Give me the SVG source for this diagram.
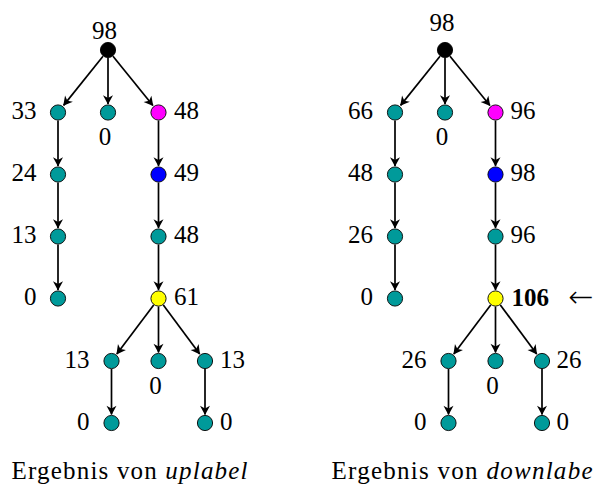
<svg xmlns="http://www.w3.org/2000/svg" width="594" height="486" viewBox="0 0 594 486">
  <style>
    text { font-family: "Liberation Serif", "DejaVu Serif", serif; font-size: 25px; fill: #000; }
    .l { text-anchor: end; }
    .c { text-anchor: middle; }
    .cap { font-size: 25px; }
    .em { font-style: italic; }
    .bold { font-weight: bold; }
    .arr { font-family: "DejaVu Sans", sans-serif; font-size: 30px; font-weight: 300; }
    circle { stroke: #000; stroke-width: 0.9; }
    .teal { fill: #009a9a; }
    .mag { fill: #ff00ff; }
    .blue { fill: #0000ff; }
    .yel { fill: #ffff00; }
    .blk { fill: #000; }
    .edges path { stroke: #000; stroke-width: 1.7; fill: none; marker-end: url(#tip); }
  </style>
  <defs>
    <marker id="tip" markerUnits="userSpaceOnUse" viewBox="-11 -6 13 12" refX="0" refY="0" markerWidth="13" markerHeight="12" orient="auto">
      <path d="M0.6,0 L-8.6,-5 L-6,0 L-8.6,5 Z" fill="#000"/>
    </marker>
  </defs>

  <!-- left tree: uplabel -->
  <g id="tree-up">
    <g class="edges">
      <path d="M103,56.2 L63.6,105.4"/>
      <path d="M108,58 L108,103.9"/>
      <path d="M113,56.2 L152.9,105.5"/>
      <path d="M58,120.5 L58,165.9"/>
      <path d="M58,182.5 L58,227.9"/>
      <path d="M58,244.5 L58,289.9"/>
      <path d="M158.5,120.5 L158.5,165.9"/>
      <path d="M158.5,182.5 L158.5,227.9"/>
      <path d="M158.5,244.5 L158.5,289.9"/>
      <path d="M153.7,304.9 L116.8,353.9"/>
      <path d="M158.5,306.5 L158.5,352.4"/>
      <path d="M163.3,304.9 L199.7,353.9"/>
      <path d="M111.5,369 L111.5,414.4"/>
      <path d="M205,369 L205,414.4"/>
    </g>
    <g id="u-root"><circle class="blk" cx="108" cy="50" r="7.6"/><text class="c" x="104.5" y="39">98</text></g>
    <g id="u-a"><circle class="teal" cx="58" cy="112.5" r="7.6"/><text class="l" x="36.5" y="119">33</text></g>
    <g id="u-b"><circle class="teal" cx="108" cy="112.5" r="7.6"/><text class="c" x="105" y="145">0</text></g>
    <g id="u-c"><circle class="mag" cx="158.5" cy="112.5" r="7.6"/><text x="174" y="119">48</text></g>
    <g id="u-a1"><circle class="teal" cx="58" cy="174.5" r="7.6"/><text class="l" x="36.5" y="181">24</text></g>
    <g id="u-a2"><circle class="teal" cx="58" cy="236.5" r="7.6"/><text class="l" x="36.5" y="243">13</text></g>
    <g id="u-a3"><circle class="teal" cx="58" cy="298.5" r="7.6"/><text class="l" x="36.5" y="305">0</text></g>
    <g id="u-c1"><circle class="blue" cx="158.5" cy="174.5" r="7.6"/><text x="174" y="181">49</text></g>
    <g id="u-c2"><circle class="teal" cx="158.5" cy="236.5" r="7.6"/><text x="174" y="243">48</text></g>
    <g id="u-c3"><circle class="yel" cx="158.5" cy="298.5" r="7.6"/><text x="174" y="305">61</text></g>
    <g id="u-d"><circle class="teal" cx="111.5" cy="361" r="7.6"/><text class="l" x="89.5" y="367.5">13</text></g>
    <g id="u-e"><circle class="teal" cx="158.5" cy="361" r="7.6"/><text class="c" x="155.5" y="394">0</text></g>
    <g id="u-f"><circle class="teal" cx="205" cy="361" r="7.6"/><text x="220" y="367.5">13</text></g>
    <g id="u-d1"><circle class="teal" cx="111.5" cy="423" r="7.6"/><text class="l" x="89.5" y="429.5">0</text></g>
    <g id="u-f1"><circle class="teal" cx="205" cy="423" r="7.6"/><text x="220" y="429.5">0</text></g>
    <text class="cap" x="11.5" y="479" textLength="236" lengthAdjust="spacing">Ergebnis von <tspan class="em">uplabel</tspan></text>
  </g>

  <!-- right tree: downlabel -->
  <g id="tree-down" transform="translate(337,0)">
    <g class="edges">
      <path d="M103,56.2 L63.6,105.4"/>
      <path d="M108,58 L108,103.9"/>
      <path d="M113,56.2 L152.9,105.5"/>
      <path d="M58,120.5 L58,165.9"/>
      <path d="M58,182.5 L58,227.9"/>
      <path d="M58,244.5 L58,289.9"/>
      <path d="M158.5,120.5 L158.5,165.9"/>
      <path d="M158.5,182.5 L158.5,227.9"/>
      <path d="M158.5,244.5 L158.5,289.9"/>
      <path d="M153.7,304.9 L116.8,353.9"/>
      <path d="M158.5,306.5 L158.5,352.4"/>
      <path d="M163.3,304.9 L199.7,353.9"/>
      <path d="M111.5,369 L111.5,414.4"/>
      <path d="M205,369 L205,414.4"/>
    </g>
    <g id="d-root"><circle class="blk" cx="108" cy="50" r="7.6"/><text class="c" x="105" y="30.5">98</text></g>
    <g id="d-a"><circle class="teal" cx="58" cy="112.5" r="7.6"/><text class="l" x="36" y="119">66</text></g>
    <g id="d-b"><circle class="teal" cx="108" cy="112.5" r="7.6"/><text class="c" x="105" y="145">0</text></g>
    <g id="d-c"><circle class="mag" cx="158.5" cy="112.5" r="7.6"/><text x="173.5" y="119">96</text></g>
    <g id="d-a1"><circle class="teal" cx="58" cy="174.5" r="7.6"/><text class="l" x="36" y="181">48</text></g>
    <g id="d-a2"><circle class="teal" cx="58" cy="236.5" r="7.6"/><text class="l" x="36" y="243">26</text></g>
    <g id="d-a3"><circle class="teal" cx="58" cy="298.5" r="7.6"/><text class="l" x="36" y="305">0</text></g>
    <g id="d-c1"><circle class="blue" cx="158.5" cy="174.5" r="7.6"/><text x="173.5" y="181">98</text></g>
    <g id="d-c2"><circle class="teal" cx="158.5" cy="236.5" r="7.6"/><text x="173.5" y="243">96</text></g>
    <g id="d-c3"><circle class="yel" cx="158.5" cy="298.5" r="7.6"/><text class="bold" x="174.5" y="305.5">106</text><text class="arr" x="231.5" y="306.5">←</text></g>
    <g id="d-d"><circle class="teal" cx="111.5" cy="361" r="7.6"/><text class="l" x="89.5" y="367.5">26</text></g>
    <g id="d-e"><circle class="teal" cx="158.5" cy="361" r="7.6"/><text class="c" x="155.5" y="394">0</text></g>
    <g id="d-f"><circle class="teal" cx="205" cy="361" r="7.6"/><text x="219.5" y="367.5">26</text></g>
    <g id="d-d1"><circle class="teal" cx="111.5" cy="423" r="7.6"/><text class="l" x="89.5" y="429.5">0</text></g>
    <g id="d-f1"><circle class="teal" cx="205" cy="423" r="7.6"/><text x="219.5" y="429.5">0</text></g>
    <text class="cap" x="-5.5" y="479" textLength="261" lengthAdjust="spacing">Ergebnis von <tspan class="em">downlabe</tspan></text>
  </g>
</svg>
